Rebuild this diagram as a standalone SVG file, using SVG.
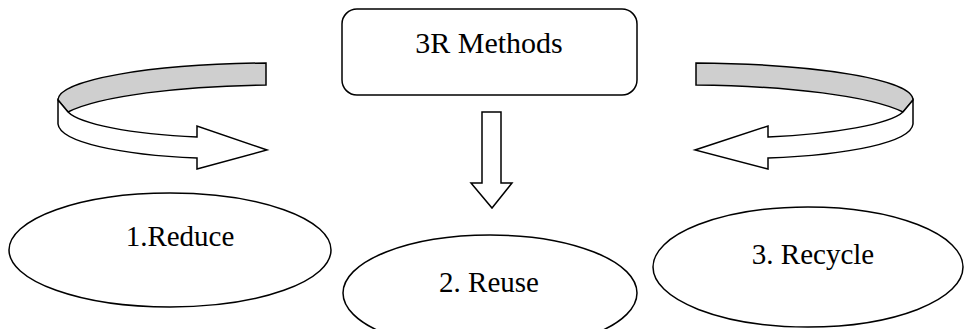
<svg xmlns="http://www.w3.org/2000/svg" width="965" height="329" viewBox="0 0 965 329">
<style>
.shape{fill:#fff;stroke:#000;stroke-width:1.5;stroke-linejoin:miter}
.band{fill:#cfcfcf;stroke:#000;stroke-width:1.5}
.lbl{font-family:"Liberation Serif","Times New Roman",serif;font-size:29px;fill:#000;text-anchor:middle}
</style>
<rect width="965" height="329" fill="#fff"/>
<g id="connectors">
  <g id="arrow-left">
    <path class="band" d="M266,63 C150,64 58,80 58,100 L68,112 C100,96 180,86 266,85 Z"/>
    <path class="shape" d="M58,100 L58,124 C60,142 120,155 197,158 L197,169 L267,150 L197,126 L197,137 C130,134 80,124 68,112 Z"/>
  </g>
  <g id="arrow-down">
    <path class="shape" d="M482,112 H501 V183 H512 L492,208 L471,183 H482 Z"/>
  </g>
  <g id="arrow-right">
    <path class="band" d="M696,63 C820,64 913,80 913,100 L903,112 C870,96 790,86 696,85 Z"/>
    <path class="shape" d="M913,100 L913,124 C911,142 850,155 768,158 L768,169 L695,150 L768,126 L768,137 C835,134 890,124 903,112 Z"/>
  </g>
</g>
<g id="node-3r">
  <rect class="shape" x="342" y="9" width="295" height="86" rx="15" ry="15"/>
  <text class="lbl" x="489" y="53" style="font-size:30px">3R Methods</text>
</g>
<g id="node-reduce">
  <ellipse class="shape" cx="170" cy="250" rx="161" ry="57"/>
  <text class="lbl" x="180" y="246">1.Reduce</text>
</g>
<g id="node-reuse">
  <ellipse class="shape" cx="490" cy="293" rx="147" ry="58"/>
  <text class="lbl" x="489" y="292">2. Reuse</text>
</g>
<g id="node-recycle">
  <ellipse class="shape" cx="808" cy="267" rx="155" ry="60"/>
  <text class="lbl" x="813" y="264">3. Recycle</text>
</g>
</svg>
